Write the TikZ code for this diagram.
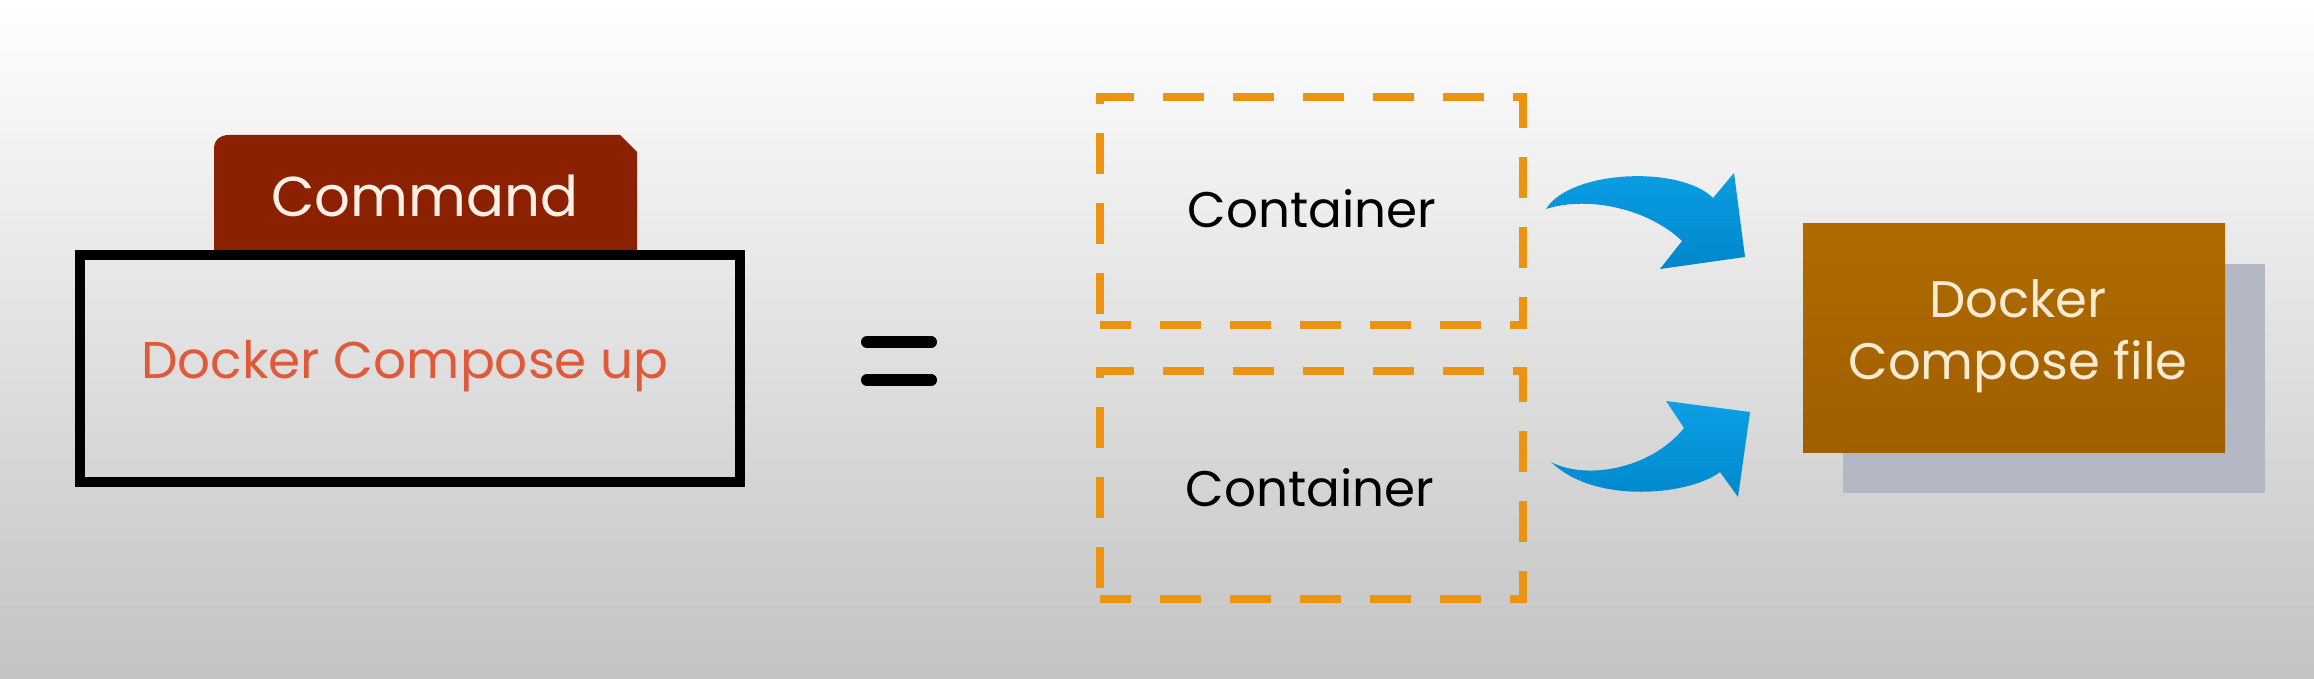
\documentclass[tikz,border=0pt]{standalone}
\usepackage{fontspec}
\setmainfont{Poppins}
\definecolor{bgbot}{RGB}{195,195,195}
\definecolor{tabred}{RGB}{139,33,0}
\definecolor{cmdtxt}{RGB}{250,240,232}
\definecolor{dcutxt}{RGB}{224,90,58}
\definecolor{dashor}{RGB}{236,148,16}
\definecolor{bluetop}{RGB}{12,160,228}
\definecolor{bluebot}{RGB}{0,134,204}
\definecolor{filetop}{RGB}{176,107,0}
\definecolor{filebot}{RGB}{160,94,0}
\definecolor{shadowc}{RGB}{180,184,196}
\definecolor{filetxt}{RGB}{247,236,210}
\tikzset{
  framebox/.style={draw=black, line width=3pt, minimum width=198pt, minimum height=68.1pt, inner sep=0pt},
  contbox/.style={draw=dashor, line width=2.4pt, dash pattern=on 12.3pt off 8.7pt, dash phase=3pt, minimum width=126.9pt, minimum height=68.4pt, inner sep=0pt},
  filebox/.style={top color=filetop, bottom color=filebot, draw=none, minimum width=126.6pt, minimum height=68.7pt, inner sep=0pt},
  shadowbox/.style={fill=shadowc, draw=none, minimum width=126.6pt, minimum height=68.7pt, inner sep=0pt},
  lbl/.style={inner sep=0pt, anchor=base},
  bluearrow/.style={top color=bluetop, bottom color=bluebot, draw=none},
  eqbar/.style={line width=3.6pt, line cap=round, draw=black}
}
\begin{document}
\begin{tikzpicture}[x=0.3pt,y=-0.3pt]
\useasboundingbox (0,0) rectangle (2314,679);
\shade[top color=white, bottom color=bgbot] (0,0) rectangle (2314,679);
% command tab
\fill[tabred] (214,252) -- (214,149) .. controls (214,140) and (220,135) .. (229,135) -- (620,135) -- (637,152) -- (637,252) -- cycle;
\node[lbl, text=cmdtxt, font=\fontsize{16.85}{20}\selectfont] (cmd) at (425,217) {Command};
% black frame
\node[framebox] (frame) at (410,368.5) {};
\node[lbl, text=dcutxt, font=\fontsize{15.5}{18}\selectfont] (dcu) at (405,378) {Docker Compose up};
% equals
\coordinate (eqa1) at (867,342); \coordinate (eqb1) at (931,342);
\coordinate (eqa2) at (867,380); \coordinate (eqb2) at (931,380);
\draw[eqbar] (eqa1) -- (eqb1);
\draw[eqbar] (eqa2) -- (eqb2);
% containers
\node[contbox] (c1) at (1311.5,211) {};
\node[contbox] (c2) at (1311.5,485) {};
\node[lbl, font=\fontsize{15}{18}\selectfont] (c1t) at (1312,227) {Container};
\node[lbl, font=\fontsize{15}{18}\selectfont] (c2t) at (1310,506) {Container};
% blue arrows
\shade[bluearrow] (1546,209) .. controls (1570,170) and (1680,165) .. (1713,198) -- (1734,173) -- (1745,257) -- (1660,269) -- (1682,241) .. controls (1650,210) and (1590,195) .. (1546,209) -- cycle;
\shade[bluearrow] (1551,462) .. controls (1585,480) and (1650,470) .. (1684,428) -- (1666,401) -- (1750,412) -- (1738,497) -- (1720,472) .. controls (1690,495) and (1595,505) .. (1551,462) -- cycle;
% compose file
\node[shadowbox] (shadow) at (2054,378) {};
\node[filebox] (file) at (2014,337.5) {};
\node[lbl, text=filetxt, font=\fontsize{15.4}{18}\selectfont] (f1) at (2018,317) {Docker};
\node[lbl, text=filetxt, font=\fontsize{15.4}{18}\selectfont] (f2) at (2018,379) {Compose file};
\end{tikzpicture}
\end{document}
